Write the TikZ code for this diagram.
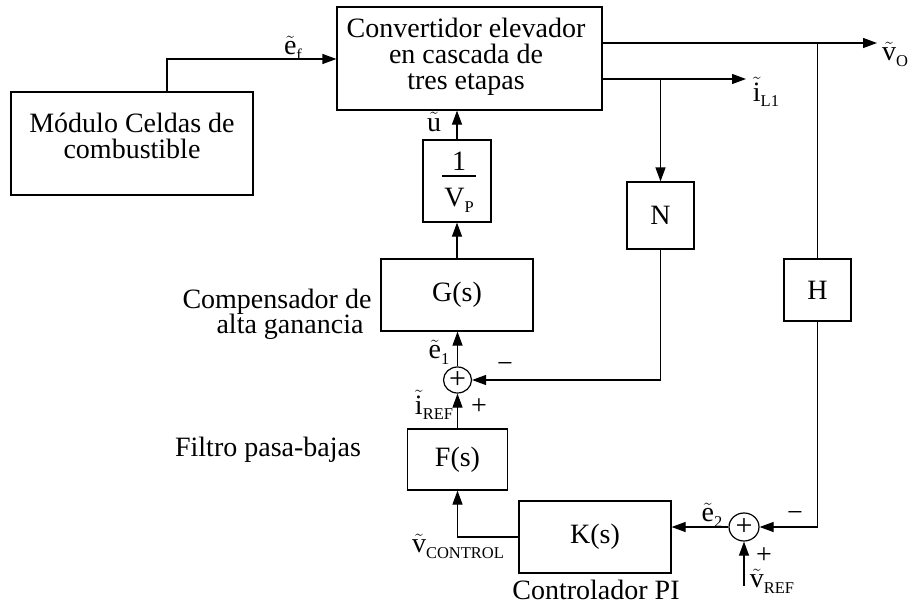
\documentclass[tikz,border=0pt]{standalone}
\usepackage{fontspec}
\setmainfont{Liberation Serif}
\usetikzlibrary{arrows.meta,shapes.geometric}
\newcommand{\tl}[1]{$\tilde{\mbox{#1}}$}
\newcommand{\sbx}[1]{\raisebox{-0.45ex}{\fontsize{16.5}{16.5}\selectfont #1}}
\begin{document}
\begin{tikzpicture}[x=1pt,y=-1pt, line width=1.2pt,
  >={Triangle[length=14pt,width=10pt]},
  blk/.style={draw, inner sep=0pt, font=\fontsize{28}{26}\selectfont, align=center},
  sumc/.style={draw, ellipse, minimum width=28pt, minimum height=26pt, inner sep=0pt, font=\fontsize{30}{30}\selectfont},
  txt/.style={font=\fontsize{28}{26}\selectfont, inner sep=0pt, align=center}]
\useasboundingbox (0,0) rectangle (909,607);

% blocks
\node[blk, minimum width=265pt, minimum height=103pt] (conv) at (469.5,58.5) {};
\node[txt] (convt) at (466,57) {Convertidor elevador\\en cascada de\\tres etapas\hspace{0.8em}};
\node[blk, minimum width=242pt, minimum height=103pt] (mod) at (132,143.5) {};
\node[txt] (modt) at (132,136) {Módulo Celdas de\\combustible};
\node[blk, minimum width=68pt, minimum height=82pt] (vp) at (457,181) {};
\node[txt] (vpone) at (459,161) {1};
\draw (442,176) -- (476,176);
\node[txt] (vpv) at (459,200) {V\sbx{P}};
\node[blk, minimum width=152pt, minimum height=72pt] (G) at (457,295) {G(s)};
\node[blk, minimum width=67pt, minimum height=67pt] (N) at (660.5,215.5) {N};
\node[blk, minimum width=67pt, minimum height=62pt] (H) at (817.5,290) {H};
\node[blk, minimum width=100pt, minimum height=61pt] (F) at (457.5,459.5) {F(s)};
\node[blk, minimum width=152pt, minimum height=72pt] (K) at (595,537) {K(s)};
\node[sumc] (s1) at (457.5,380) {+};
\node[sumc, minimum width=30pt, minimum height=28pt] (s2) at (744,527) {+};

% coordinates
\coordinate (ef) at (167,59);
\coordinate (vo) at (877,43);
\coordinate (hb) at (817.5,43);
\coordinate (il) at (746,79);
\coordinate (nb) at (660.5,79);
\coordinate (vref) at (744,586);

% connectors
\draw[->] (mod.north -| ef) -- (ef) -- (ef -| conv.west);
\draw[->] (conv.east |- vo) -- (vo);
\draw (hb) -- (H.north);
\draw[->] (conv.east |- il) -- (il);
\draw[->] (nb) -- (N.north);
\draw[->] (vp.north) -- (vp.north |- conv.south);
\draw[->] (G.north) -- (vp.south -| G.north);
\draw[->] (s1.north) -- (s1.north |- G.south);
\draw[->] (N.south) |- (s1.east);
\draw[->] (F.north) -- (s1.south);
\draw[->] (K.west) -| (F.south);
\draw[->] (H.south) |- (s2.east);
\draw[->] (s2.west) -- (s2.west -| K.east);
\draw[->] (vref) -- (s2.south);

% labels
\node[txt] (lef) at (293,48) {\tl{e}\sbx{f}};
\node[txt] (lu) at (434,122) {\tl{u}};
\node[txt] (lvo) at (895,54) {\tl{v}\sbx{O}};
\node[txt] (lil) at (766,92) {\tl{i}\sbx{L1}};
\node[txt] (le1) at (439,352) {\tl{e}\sbx{1}};
\node[txt] (lm1) at (505,367) {−};
\node[txt] (lir) at (434,405) {\tl{i}\sbx{REF}};
\node[txt] (lp1) at (479,407) {+};
\node[txt] (lvc) at (458,546) {\tl{v}\sbx{CONTROL}};
\node[txt] (le2) at (712,515) {\tl{e}\sbx{2}};
\node[txt] (lm2) at (795,516) {−};
\node[txt] (lp2) at (764,556) {+};
\node[txt] (lvr) at (772,581) {\tl{v}\sbx{REF}};
\node[txt] (comp1) at (277,302) {Compensador de};
\node[txt] (comp2) at (290,327) {alta ganancia};
\node[txt] (filt) at (268,450) {Filtro pasa-bajas};
\node[txt] (ctrl) at (596,590) {Controlador PI};
\end{tikzpicture}
\end{document}
